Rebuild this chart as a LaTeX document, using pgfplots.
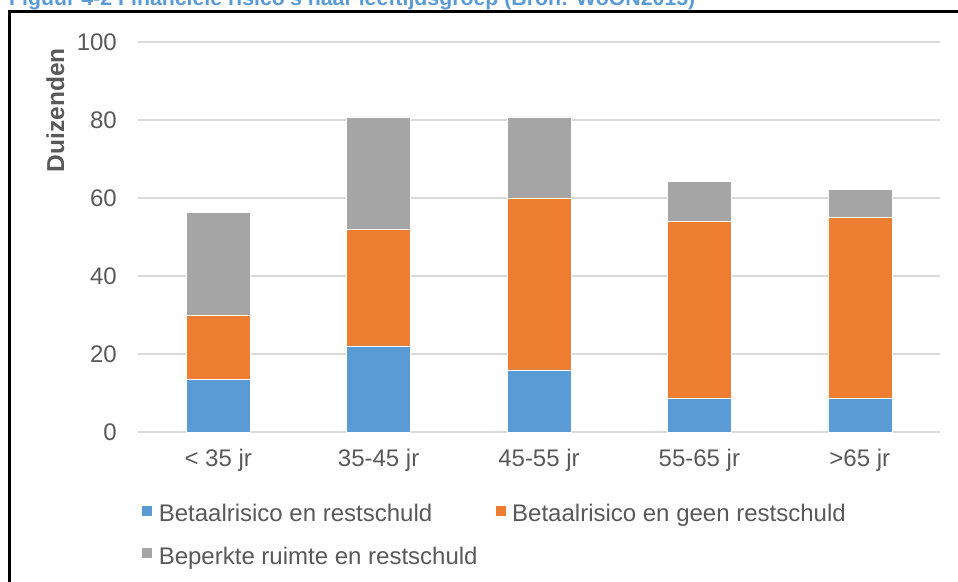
\documentclass[border=0pt]{standalone}
\usepackage{fontspec}
\setmainfont{Liberation Sans}
\usepackage{pgfplots}
\pgfplotsset{compat=1.18}

\definecolor{barblue}{HTML}{5B9BD5}
\definecolor{barorange}{HTML}{ED7D31}
\definecolor{bargray}{HTML}{A5A5A5}
\definecolor{gridgray}{HTML}{D9D9D9}
\definecolor{textgray}{HTML}{595959}
\definecolor{titleblue}{HTML}{5B9BD5}

\begin{document}
\begin{tikzpicture}
\useasboundingbox (0pt,0pt) rectangle (958pt,581pt);
\clip (0pt,0pt) rectangle (958pt,581pt);

% caption line above the frame
\node[anchor=base west, inner sep=0pt, text=titleblue,
      font=\fontsize{21.3}{24}\selectfont\bfseries]
  at (9pt,575.3pt) {Figuur 4-2 Financiële risico's naar leeftijdsgroep (Bron: WoON2015)};

% frame
\draw[line width=3pt] (9pt,-10pt) -- (9pt,569pt) -- (970pt,569pt);

\begin{axis}[
  at={(138pt,149pt)}, anchor=south west,
  scale only axis, width=802pt, height=390pt,
  ybar stacked, bar width=64pt,
  xmin=-0.5, xmax=4.5, ymin=0, ymax=100,
  xtick={0,1,2,3,4},
  xticklabels={{< 35 jr},{35-45 jr},{45-55 jr},{55-65 jr},{>65 jr}},
  ytick={0,20,40,60,80,100},
  ymajorgrids, grid style={draw=gridgray, line width=1.3pt},
  axis line style={draw=none},
  major tick length=0pt,
  /pgf/number format/assume math mode=true,
  tick label style={font=\fontsize{24}{28}\selectfont, text=textgray, inner sep=0pt},
  yticklabel style={anchor=east, xshift=-21pt},
  xticklabel style={anchor=base, yshift=-34.7pt},
  ylabel={Duizenden},
  ylabel style={at={(axis description cs:-0.103,0.825)}, anchor=center, rotate=0,
                font=\fontsize{24.5}{28}\selectfont\bfseries, text=textgray, inner sep=0pt},
  legend style={at={(axis description cs:0,-0.175)}, anchor=north west,
                draw=none, fill=none, legend columns=2,
                font=\fontsize{24}{28}\selectfont, text=textgray,
                /tikz/every odd column/.append style={column sep=4pt},
                /tikz/every even column/.append style={column sep=15pt},
                row sep=20pt},
  legend cell align=left,
  legend image code/.code={\fill[#1] (0pt,-2pt) rectangle (11pt,9pt);},
]
\addplot[fill=barblue, draw=white, line width=0.6pt]
  coordinates {(0,13.5) (1,22.1) (2,15.9) (3,8.6) (4,8.6)};
\addplot[fill=barorange, draw=white, line width=0.6pt]
  coordinates {(0,16.5) (1,29.9) (2,44.1) (3,45.4) (4,46.4)};
\addplot[fill=bargray, draw=white, line width=0.6pt]
  coordinates {(0,26.3) (1,28.8) (2,20.8) (3,10.2) (4,7.2)};
\legend{Betaalrisico en restschuld, Betaalrisico en geen restschuld, Beperkte ruimte en restschuld}
\end{axis}
\end{tikzpicture}
\end{document}
